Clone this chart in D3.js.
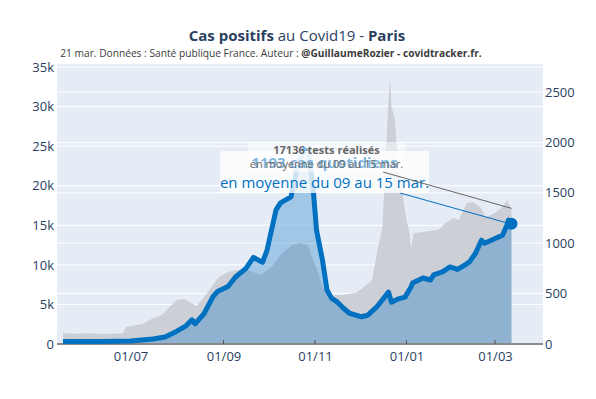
<!DOCTYPE html>
<html>
<head>
<meta charset="utf-8">
<script src="https://cdn.jsdelivr.net/npm/d3@7"></script>
<style>
    body { margin: 0; background: white; }
    svg { display: block; font-family: "Open Sans", sans-serif; }
</style>
</head>
<body>
<svg id="chart"></svg>
<script>
// Set data
const testDates = ["2020-05-17", "2020-05-25", "2020-06-03", "2020-06-12", "2020-06-20", "2020-06-26",
    "2020-06-28", "2020-07-09", "2020-07-15", "2020-07-22", "2020-07-27", "2020-08-01", "2020-08-06",
    "2020-08-14", "2020-08-20", "2020-08-29", "2020-09-04", "2020-09-09", "2020-09-17", "2020-09-26",
    "2020-10-03", "2020-10-10", "2020-10-17", "2020-10-22", "2020-10-27", "2020-10-30", "2020-11-03",
    "2020-11-06", "2020-11-10", "2020-11-19", "2020-11-28", "2020-12-03", "2020-12-09", "2020-12-13",
    "2020-12-16", "2020-12-18", "2020-12-20", "2020-12-21", "2020-12-22", "2020-12-24", "2020-12-25",
    "2020-12-27", "2020-12-30", "2021-01-01", "2021-01-03", "2021-01-04", "2021-01-06", "2021-01-12",
    "2021-01-22", "2021-01-27", "2021-02-01", "2021-02-05", "2021-02-10", "2021-02-14", "2021-02-19",
    "2021-02-23", "2021-03-01", "2021-03-06", "2021-03-09", "2021-03-12"];
const testValues = [1400, 1300, 1350, 1250, 1300, 1400,
    2150, 2530, 3150, 3660, 4670, 5560, 5700,
    4800, 6190, 8460, 9100, 9350, 9350, 8700,
    9720, 11500, 12500, 12750, 12500, 11000, 9100,
    7200, 6190, 6190, 6440, 7070, 8080, 12250,
    14780, 23240, 30800, 33600, 29900, 28670, 26140,
    21980, 18190, 15660, 14020, 12130, 14020, 14150,
    14400, 15280, 15910, 15660, 17800, 17930, 17300,
    16040, 16550, 17300, 18190, 17136];

const caseDates = ["2020-05-17", "2020-06-11", "2020-07-01", "2020-07-16", "2020-07-24", "2020-07-31",
    "2020-08-07", "2020-08-11", "2020-08-13", "2020-08-19", "2020-08-25", "2020-08-28", "2020-09-04",
    "2020-09-09", "2020-09-16", "2020-09-21", "2020-09-27", "2020-09-30", "2020-10-06", "2020-10-09",
    "2020-10-16", "2020-10-18", "2020-10-21", "2020-10-25", "2020-10-28", "2020-10-31", "2020-11-02",
    "2020-11-06", "2020-11-09", "2020-11-12", "2020-11-16", "2020-11-20", "2020-11-24", "2020-12-02",
    "2020-12-06", "2020-12-12", "2020-12-20", "2020-12-22", "2020-12-26", "2020-12-31", "2021-01-04",
    "2021-01-05", "2021-01-12", "2021-01-17", "2021-01-19", "2021-01-25", "2021-01-30", "2021-02-04",
    "2021-02-08", "2021-02-12", "2021-02-16", "2021-02-20", "2021-02-22", "2021-02-28", "2021-03-06",
    "2021-03-09", "2021-03-10", "2021-03-12"];
const caseValues = [25, 25, 30, 50, 70, 120,
    180, 240, 200, 300, 470, 520, 570,
    665, 750, 860, 810, 930, 1330, 1400,
    1460, 1600, 1800, 1930, 1880, 1500, 1130,
    830, 535, 455, 415, 355, 305, 270,
    285, 365, 515, 415, 445, 465, 565,
    605, 655, 635, 685, 715, 765, 740,
    775, 815, 900, 1030, 1000, 1040, 1080,
    1180, 1230, 1193];

const leftTicks = [0, 5000, 10000, 15000, 20000, 25000, 30000, 35000];
const leftTickLabels = ["0", "5k", "10k", "15k", "20k", "25k", "30k", "35k"];
const rightTicks = [0, 500, 1000, 1500, 2000, 2500];
const xTickDates = ["2020-07-01", "2020-09-01", "2020-11-01", "2021-01-01", "2021-03-01"];
const xTickLabels = ["01/07", "01/09", "01/11", "01/01", "01/03"];

const testNote = ["17136 tests réalisés", "en moyenne du 09 au 15 mar."];
const caseNote = ["1193 cas quotidiens", "en moyenne du 09 au 15 mar."];


// Set width and height
const width = 596;
const height = 399;
const plot = {left: 57, right: 543, top: 64, bottom: 344};

const blue = "rgb(0, 112, 192)";
const navy = "#2a3f5f";

const canvas = d3.select("#chart")
    .attr("width", width)
    .attr("height", height);

const parseDate = d3.timeParse("%Y-%m-%d");

const tests = testDates.map((d, i) => ({date: parseDate(d), value: testValues[i]}));
const cases = caseDates.map((d, i) => ({date: parseDate(d), value: caseValues[i]}));


// Scales
const x = d3.scaleTime()
    .domain([parseDate("2020-05-13"), parseDate("2021-04-02")])
    .range([plot.left, plot.right]);
const yTests = d3.scaleLinear().domain([0, 35380]).range([plot.bottom, plot.top]);
const yCases = d3.scaleLinear().domain([0, 2778]).range([plot.bottom, plot.top]);


// Title
const title = canvas.append("text")
    .attr("x", 297).attr("y", 41)
    .attr("text-anchor", "middle")
    .style("font-size", "15px")
    .attr("fill", navy);
title.append("tspan").attr("font-weight", "bold").text("Cas positifs");
title.append("tspan").text(" au Covid19 - ");
title.append("tspan").attr("font-weight", "bold").text("Paris");

const subtitle = canvas.append("text")
    .attr("x", 271).attr("y", 57)
    .attr("text-anchor", "middle")
    .style("font-size", "10.2px")
    .attr("fill", "#3c3c3c");
subtitle.append("tspan").text("21 mar. Données : Santé publique France. Auteur : ");
subtitle.append("tspan").attr("font-weight", "bold").text("@GuillaumeRozier - covidtracker.fr.");


// Plot background and grid
canvas.append("rect")
    .attr("x", plot.left).attr("y", plot.top)
    .attr("width", plot.right - plot.left).attr("height", plot.bottom - plot.top)
    .attr("fill", "#e5ecf6");

const drawGrid = function(ticks, scale){
    canvas.append("g").selectAll("line")
        .data(ticks.filter(t => t > 0))
        .join("line")
        .attr("x1", plot.left).attr("x2", plot.right)
        .attr("y1", d => scale(d)).attr("y2", d => scale(d))
        .attr("stroke", "white")
        .attr("stroke-width", 1);
}
drawGrid(leftTicks, yTests);
drawGrid(rightTicks, yCases);


// Areas
canvas.append("path")
    .datum(tests)
    .attr("d", d3.area().x(d => x(d.date)).y0(yTests(0)).y1(d => yTests(d.value)))
    .attr("fill", "rgb(204, 207, 214)");

canvas.append("path")
    .datum(cases)
    .attr("d", d3.area().x(d => x(d.date)).y0(yCases(0)).y1(d => yCases(d.value)))
    .attr("fill", blue)
    .attr("fill-opacity", 0.3);


// Axes
const leftAxis = canvas.append("g")
    .attr("transform", `translate(${plot.left},0)`)
    .call(d3.axisLeft(yTests).tickValues(leftTicks).tickFormat((d, i) => leftTickLabels[i]).tickSize(0).tickPadding(3));
const rightAxis = canvas.append("g")
    .attr("transform", `translate(${plot.right},0)`)
    .call(d3.axisRight(yCases).tickValues(rightTicks).tickFormat(d3.format("d")).tickSize(0).tickPadding(2));
const bottomAxis = canvas.append("g")
    .attr("transform", `translate(0,${plot.bottom})`)
    .call(d3.axisBottom(x).tickValues(xTickDates.map(parseDate)).tickFormat((d, i) => xTickLabels[i]).tickSize(0).tickPadding(8));

for (const axis of [leftAxis, rightAxis, bottomAxis]){
    axis.select(".domain").remove();
    axis.selectAll("text")
        .attr("fill", navy)
        .style("font-size", "13px")
        .style("font-family", "'Open Sans', sans-serif");
}

canvas.append("line")
    .attr("x1", plot.left).attr("x2", plot.right)
    .attr("y1", plot.bottom).attr("y2", plot.bottom)
    .attr("stroke", "#8a8a8a")
    .attr("stroke-width", 2);

canvas.append("g").selectAll("line")
    .data(xTickDates.map(parseDate))
    .join("line")
    .attr("x1", d => x(d)).attr("x2", d => x(d))
    .attr("y1", plot.bottom).attr("y2", plot.bottom - 4)
    .attr("stroke", "#555")
    .attr("stroke-width", 1);


// Cases line
canvas.append("path")
    .datum(cases)
    .attr("d", d3.line().x(d => x(d.date)).y(d => yCases(d.value)))
    .attr("fill", "none")
    .attr("stroke", blue)
    .attr("stroke-width", 5)
    .attr("stroke-linejoin", "round");

const lastCase = cases[cases.length - 1];
const lastTest = tests[tests.length - 1];

canvas.append("circle")
    .attr("cx", x(lastCase.date)).attr("cy", yCases(lastCase.value))
    .attr("r", 6)
    .attr("fill", blue);


// Annotations
const drawNote = function(lines, box, color, sizes, arrowFrom, arrowTo){
    canvas.append("line")
        .attr("x1", arrowFrom[0]).attr("y1", arrowFrom[1])
        .attr("x2", arrowTo[0]).attr("y2", arrowTo[1])
        .attr("stroke", color)
        .attr("stroke-width", 1);
    canvas.append("rect")
        .attr("x", box.x).attr("y", box.y)
        .attr("width", box.w).attr("height", box.h)
        .attr("fill", "white")
        .attr("fill-opacity", box.opacity);
    lines.forEach((line, i) => {
        canvas.append("text")
            .attr("x", box.x + box.w / 2)
            .attr("y", box.y + sizes.baselines[i])
            .attr("text-anchor", "middle")
            .attr("font-weight", i === 0 ? "bold" : "normal")
            .style("font-size", sizes.fonts[i] + "px")
            .attr("fill", color)
            .text(line);
    });
}

drawNote(caseNote, {x: 220, y: 151, w: 209, h: 42, opacity: 0.8}, blue,
    {fonts: [15, 15], baselines: [17, 37]},
    [400, 193], [x(lastCase.date) - 5, yCases(lastCase.value) - 1]);

drawNote(testNote, {x: 248, y: 142, w: 157, h: 30, opacity: 0.5}, "#666666",
    {fonts: [11, 11], baselines: [12, 26]},
    [383, 172], [x(lastTest.date), yTests(lastTest.value)]);
</script>
</body>
</html>
